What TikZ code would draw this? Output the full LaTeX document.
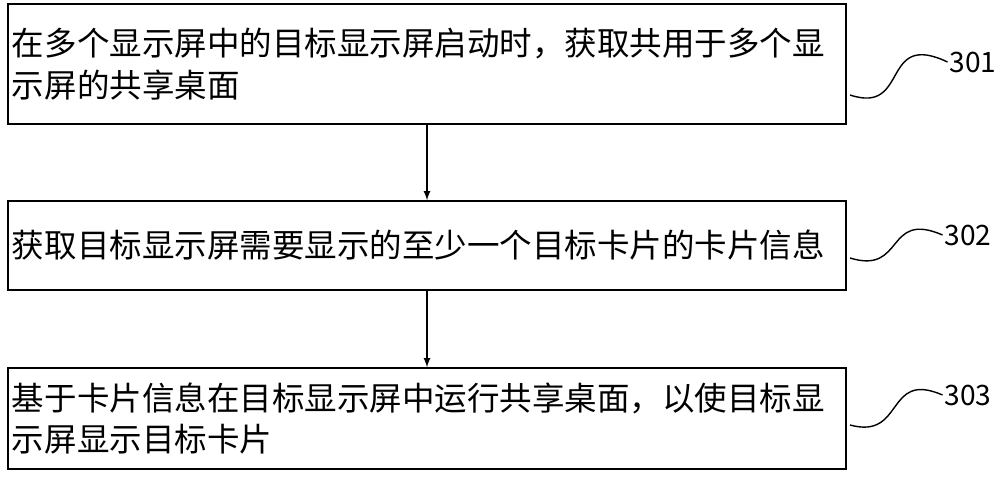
\documentclass[tikz,border=0pt]{standalone}
\usepackage{fontspec}
\setmainfont{Noto Sans CJK SC}
\tikzset{
  stepbox/.style={draw, thick, minimum width=16.76cm, text width=16.6cm, align=left,
    font=\fontsize{18.5pt}{23.5pt}\selectfont, inner sep=0pt},
  numlabel/.style={font=\fontsize{16pt}{18pt}\selectfont, inner sep=1pt}
}
\begin{document}
\begin{tikzpicture}
  \useasboundingbox (0,0) rectangle (20,-9.88);

  \node[stepbox, minimum height=2.4cm] (s1) at (8.54,-1.28) {在多个显示屏中的目标显示屏启动时，获取共用于多个显\\示屏的共享桌面};
  \node[stepbox, minimum height=1.78cm] (s2) at (8.54,-4.91) {获取目标显示屏需要显示的至少一个目标卡片的卡片信息};
  \node[stepbox, minimum height=2.02cm] (s3) at (8.54,-8.37) {基于卡片信息在目标显示屏中运行共享桌面，以使目标显\\示屏显示目标卡片};

  \draw[thick, -latex] (s1) -- (s2);
  \draw[thick, -latex] (s2) -- (s3);

  % step numbers
  \node[numlabel, anchor=west] (n1) at (18.95,-1.24) {301};
  \node[numlabel, anchor=west] (n2) at (18.85,-4.7) {302};
  \node[numlabel, anchor=west] (n3) at (18.85,-7.9) {303};

  \draw[thick] (17.0,-1.9) .. controls (18.2,-2.3) and (17.6,-0.6) .. (n1.west);
  \draw[thick] (17.0,-5.16) .. controls (18.1,-5.5) and (17.7,-4.2) .. (n2.west);
  \draw[thick] (17.0,-8.5) .. controls (18.1,-8.8) and (17.7,-7.4) .. (n3.west);
\end{tikzpicture}
\end{document}
